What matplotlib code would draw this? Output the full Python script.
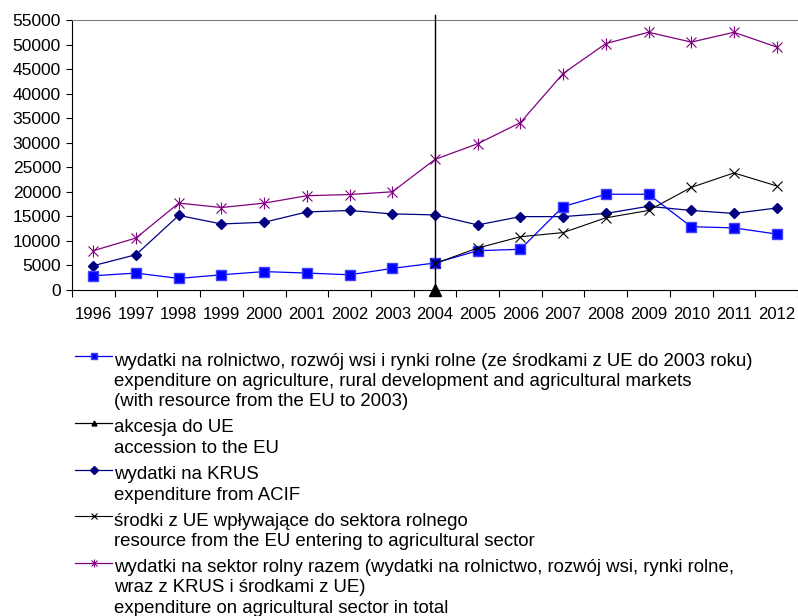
import matplotlib
matplotlib.use("Agg")
import matplotlib.pyplot as plt
from matplotlib.lines import Line2D

plt.rcParams['font.family'] = ['Liberation Sans', 'DejaVu Sans']

years = ['1996', '1997', '1998', '1999', '2000', '2001', '2002', '2003', '2004',
         '2005', '2006', '2007', '2008', '2009', '2010', '2011', '2012']

agri_exp = [2900, 3450, 2350, 3100, 3750, 3450, 3100, 4400, 5500,
            8000, 8300, 17000, 19500, 19500, 12900, 12650, 11400]
krus_exp = [4950, 7200, 15200, 13450, 13800, 15900, 16200, 15500, 15300,
            13250, 14950, 14950, 15600, 17050, 16200, 15600, 16700]
eu_years = ['2004', '2005', '2006', '2007', '2008', '2009', '2010', '2011', '2012']
eu_funds = [5400, 8550, 10850, 11700, 14700, 16200, 20900, 23850, 21200]
total_exp = [8000, 10600, 17700, 16800, 17700, 19200, 19450, 20000, 26600,
             29800, 34100, 44100, 50200, 52500, 50500, 52500, 49500]
accession_year = '2004'
accession_vals = [0, 56000]

labels = [
    ["wydatki na rolnictwo, rozwój wsi i rynki rolne (ze środkami z UE do 2003 roku)",
     "expenditure on agriculture, rural development and agricultural markets",
     "(with resource from the EU to 2003)"],
    ["akcesja do UE", "accession to the EU"],
    ["wydatki na KRUS", "expenditure from ACIF"],
    ["środki z UE wpływające do sektora rolnego",
     "resource from the EU entering to agricultural sector"],
    ["wydatki na sektor rolny razem (wydatki na rolnictwo, rozwój wsi, rynki rolne,",
     "wraz z KRUS i środkami z UE)",
     "expenditure on agricultural sector in total"],
]

W, H = 798, 616
fig = plt.figure(figsize=(W / 100, H / 100), dpi=100)
ax = fig.add_axes([72 / W, 1 - 290 / H, (W - 72) / W, 270 / H])

x = list(range(len(years)))
eu_x = [years.index(y) for y in eu_years]
acc_x = years.index(accession_year)

blue = dict(color='#0000ff', marker='s', ms=7, mec='#4040ff', lw=0.9)
navy = dict(color='#000080', marker='D', ms=5.5, lw=0.9)
black = dict(color='#000000', marker='x', ms=7, mew=0.8, lw=0.8)
purple = dict(color='#800080', marker='x', ms=7, mew=0.8, lw=0.9)

ax.plot(x, total_exp, **purple)
ax.plot(x, total_exp, ls='none', marker='|', ms=9, mew=0.8, color='#800080')
ax.plot(x, krus_exp, **navy)
ax.plot(x, agri_exp, **blue)
ax.plot(eu_x, eu_funds, **black)
ax.plot([acc_x, acc_x], accession_vals, color='black', lw=1, clip_on=False,
        marker='^', ms=8, markevery=[0], zorder=5)

ax.set_xlim(-0.5, len(years) - 0.5)
ax.set_ylim(0, 55000)
ax.set_yticks(range(0, 55001, 5000))
ax.tick_params(axis='y', labelsize=12.5, length=4, width=0.8, pad=4)
ax.set_xticks(x)
ax.set_xticklabels(years)
ax.set_xticks([i - 0.5 for i in range(len(years) + 1)], minor=True)
ax.tick_params(axis='x', which='major', length=0, labelsize=12, pad=12)
ax.tick_params(axis='x', which='minor', length=5, width=0.8)
ax.spines['right'].set_visible(False)
ax.spines['top'].set_color('#808080')
ax.spines['left'].set_linewidth(0.8)
ax.spines['bottom'].set_linewidth(0.8)

# legend drawn by hand so the handle sits on the first line of each entry
handles = [blue, dict(color='#000000', marker='^', ms=5, lw=0.9), navy, black, purple]
y = 361
for h, lines in zip(handles, labels):
    hy = 1 - (y - 5) / H
    style = dict(h)
    style['ms'] = style.get('ms', 6) * 0.7
    fig.add_artist(Line2D([75 / W, 112 / W], [hy] * 2, transform=fig.transFigure,
                          **{k: v for k, v in style.items() if k not in ('marker', 'ms', 'mec', 'mew')}))
    fig.add_artist(Line2D([93.5 / W], [hy], ls='none', transform=fig.transFigure,
                          **{k: v for k, v in style.items() if k != 'lw'}))
    if h is purple:
        fig.add_artist(Line2D([93.5 / W], [hy], ls='none', marker='|', ms=6,
                              mew=0.8, color='#800080', transform=fig.transFigure))
    for ln in lines:
        fig.text(114 / W, 1 - y / H, ln, fontsize=13.45, va='center', ha='left')
        y += 20.5
    y += 5.5

fig.savefig('out.png', dpi=100)
